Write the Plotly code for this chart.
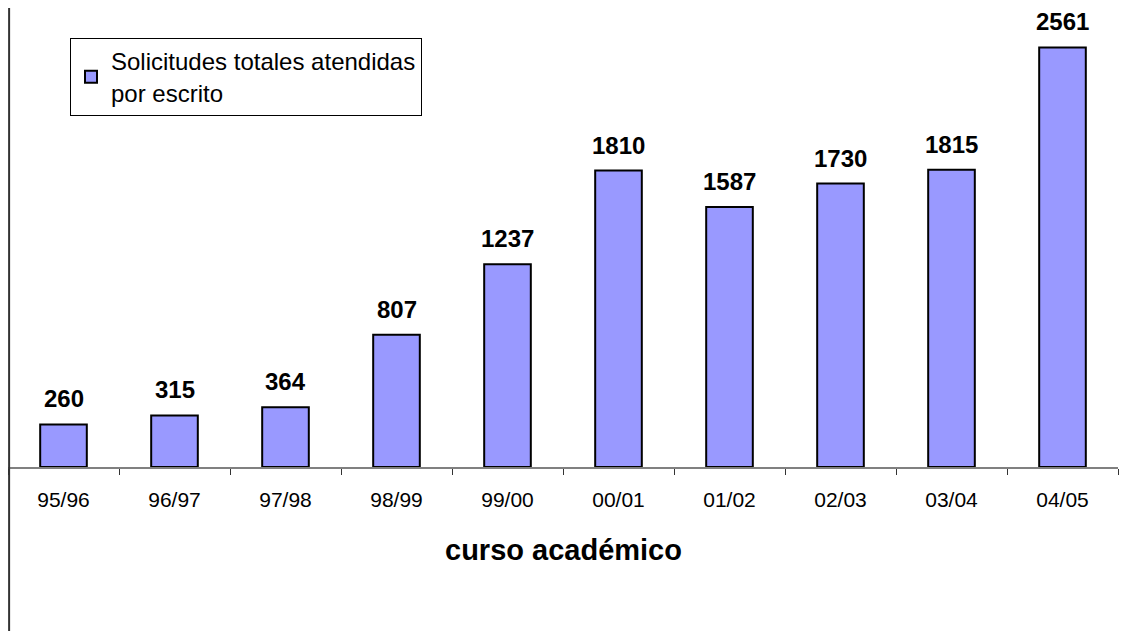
import plotly.graph_objects as go

categories = ["95/96", "96/97", "97/98", "98/99", "99/00", "00/01", "01/02", "02/03", "03/04", "04/05"]
values = [260, 315, 364, 807, 1237, 1810, 1587, 1730, 1815, 2561]
series_name = "Solicitudes totales atendidas<br>por escrito"
axis_title = "curso académico"

# page body has 8px default margin, so figure is sized to fit in the window
W, H = 1124, 625
plot_w, plot_h = 1110, 459

FONT = "Liberation Sans, Arial"

fig = go.Figure()
fig.add_trace(go.Bar(
    x=categories, y=values, name=series_name,
    marker=dict(color="#9999FF", line=dict(color="black", width=2)),
    width=0.42, showlegend=True,
))

for c, v in zip(categories, values):
    fig.add_annotation(x=c, y=v, text=f"<b>{v}</b>", showarrow=False,
                       yanchor="bottom", yshift=11, borderpad=0,
                       font=dict(family=FONT, size=24, color="black"))

fig.add_annotation(xref="paper", yref="paper", x=0.5, y=-83 / plot_h, text=f"<b>{axis_title}</b>",
                   showarrow=False, yanchor="middle",
                   font=dict(family=FONT, size=29, color="black"))

# left border line
fig.add_shape(type="line", xref="paper", yref="paper", x0=0.001, x1=0.001, y0=1.0,
              y1=-(H - plot_h - 2) / plot_h,
              line=dict(color="#333333", width=2))

fig.update_layout(
    width=W, height=H,
    margin=dict(l=0, r=W - plot_w, t=0, b=H - plot_h, pad=0),
    paper_bgcolor="white", plot_bgcolor="white",
    font=dict(family=FONT, color="black"),
    showlegend=True,
    legend=dict(x=62 / plot_w, y=1 - 30 / plot_h, xanchor="left", yanchor="top",
                bordercolor="black", borderwidth=1, bgcolor="white",
                font=dict(size=24, family=FONT, color="black"),
                itemwidth=30, tracegroupgap=0),
)
fig.update_xaxes(type="category", showline=True, linecolor="#808080", linewidth=2,
                 ticks="outside", tickson="boundaries", ticklen=6, tickcolor="#333333", tickwidth=1,
                 tickfont=dict(size=21, family=FONT, color="black"),
                 ticklabelstandoff=13, showgrid=False, zeroline=False)
fig.update_yaxes(range=[0, 2802], visible=False, showgrid=False, zeroline=False)

fig.write_html("out.html")
